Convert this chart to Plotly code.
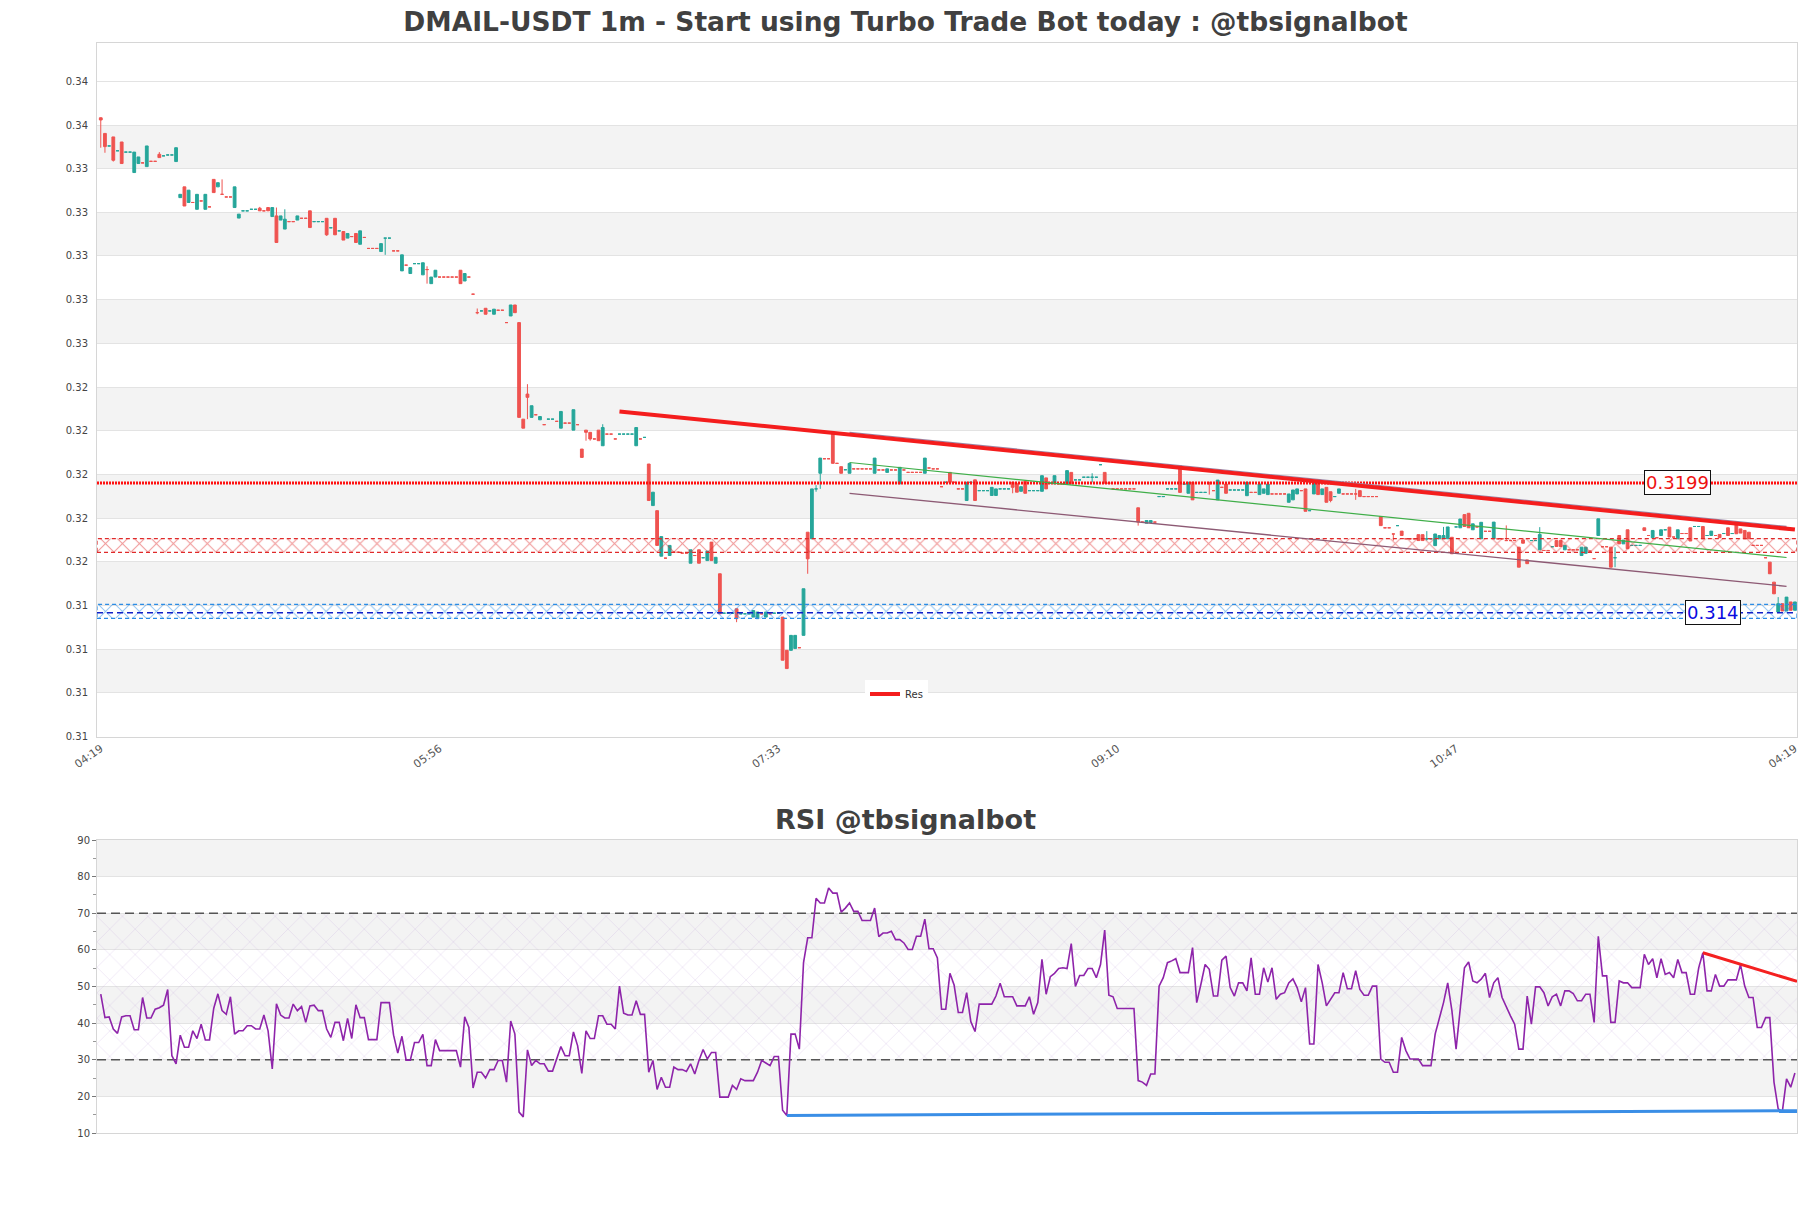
import plotly.graph_objects as go

# ---------------- text ----------------
TITLE = "DMAIL-USDT 1m - Start using Turbo Trade Bot today : @tbsignalbot"
RSI_TITLE = "RSI @tbsignalbot"

# ---------------- candle data (prices in units of 1e-5 USDT) ----------------
PRICE_UNIT = 1e-5

open_e5 = [
    33650, 33579, 33522, 33563, 33500, 33540, 33494, 33494, 33401, 33442,
    33445, 33428, 33452, 33452, 33484, 33477, 33481, 33481, 33451, 33287,
    33336, 33265, 33265, 33234, 33272, 33234, 33245, 33370, 33336, 33302,
    33290, 33290, 33242, 33194, 33227, 33227, 33234, 33234, 33239, 33227,
    33242, 33201, 33204, 33185, 33144, 33178, 33178, 33185, 33193, 33193,
    33227, 33178, 33178, 33178, 33193, 33150, 33193, 33136, 33133, 33103,
    33110, 33124, 33075, 33106, 33056, 33056, 33056, 33042, 33103, 33103,
    33045, 33045, 32954, 32980, 32942, 32987, 32987, 32936, 32960, 32896,
    32926, 32926, 32926, 32926, 32926, 32926, 32957, 32908, 32926, 32848,
    32764, 32772, 32784, 32772, 32757, 32775, 32775, 32719, 32749, 32799,
    32719, 32280, 32394, 32288, 32300, 32277, 32255, 32280, 32280, 32270,
    32239, 32262, 32262, 32230, 32255, 32144, 32230, 32220, 32190, 32230,
    32159, 32212, 32212, 32190, 32212, 32212, 32212, 32212, 32159, 32190,
    32197, 32076, 31887, 31864, 31657, 31648, 31660, 31675, 31675, 31671,
    31671, 31625, 31660, 31686, 31650, 31637, 31721, 31625, 31577, 31398,
    31398, 31398, 31418, 31395, 31395, 31395, 31380, 31373, 31395, 31380,
    31395, 31398, 31398, 31380, 31229, 31229, 31237, 31241, 31297, 31766,
    31736, 31963, 32034, 32100, 32100, 32212, 32079, 32064, 32050, 32034,
    32054, 32054, 32054, 32054, 32054, 32034, 32049, 32049, 32038, 32049,
    32049, 31986, 32049, 32038, 32038, 32038, 32038, 32034, 32058, 32054,
    32054, 31973, 31993, 32038, 31993, 31963, 31963, 31910, 31993, 32004,
    31955, 31955, 31955, 31933, 31933, 31963, 31963, 31963, 31993, 31986,
    31952, 31998, 31955, 31955, 31955, 31952, 32013, 31989, 31986, 31986,
    31986, 31986, 32038, 32004, 32004, 32016, 32016, 32016, 32016, 32073,
    32038, 31989, 31963, 31963, 31963, 31963, 31963, 31963, 31877, 31812,
    31807, 31810, 31812, 31928, 31928, 31963, 31963, 31963, 32069, 31985,
    31943, 31993, 31947, 31947, 31947, 31993, 31955, 31913, 31970, 31985,
    31958, 31958, 31958, 31958, 31932, 31947, 31947, 31937, 31943, 31937,
    31940, 31940, 31940, 31940, 31902, 31913, 31940, 31955, 31963, 31864,
    31940, 31988, 31937, 31970, 31950, 31928, 31943, 31940, 31940, 31940,
    31940, 31955, 31928, 31928, 31928, 31928, 31837, 31786, 31786, 31758,
    31796, 31771, 31736, 31736, 31736, 31755, 31755, 31736, 31736, 31705,
    31736, 31736, 31736, 31743, 31790, 31786, 31846, 31852, 31777, 31790,
    31736, 31770, 31770, 31736, 31736, 31736, 31728, 31728, 31728, 31698,
    31731, 31640, 31728, 31728, 31686, 31683, 31683, 31700, 31728, 31728,
    31686, 31686, 31686, 31686, 31660, 31670, 31680, 31646, 31751, 31700,
    31700, 31698, 31650, 31751, 31713, 31777, 31706, 31706, 31706, 31786,
    31751, 31741, 31741, 31751, 31777, 31789, 31744, 31736, 31760, 31760,
    31786, 31792, 31792, 31792, 31751, 31751, 31751, 31756, 31760, 31786,
    31760, 31804, 31781, 31774, 31766, 31706, 31706, 31706, 31650, 31630,
    31539, 31403, 31441, 31408, 31449, 31411,
]

high_e5 = [
    33652, 33579, 33522, 33563, 33500, 33540, 33494, 33494, 33494, 33472,
    33445, 33522, 33452, 33452, 33494, 33477, 33481, 33481, 33514, 33302,
    33336, 33321, 33265, 33302, 33272, 33302, 33245, 33370, 33355, 33370,
    33290, 33290, 33336, 33212, 33227, 33227, 33234, 33234, 33245, 33227,
    33242, 33242, 33242, 33204, 33234, 33178, 33178, 33204, 33193, 33193,
    33227, 33178, 33178, 33178, 33193, 33150, 33193, 33136, 33133, 33124,
    33110, 33124, 33136, 33106, 33056, 33056, 33056, 33078, 33103, 33103,
    33045, 33045, 33027, 32980, 32969, 32987, 32987, 32991, 32975, 32926,
    32957, 32926, 32926, 32926, 32926, 32926, 32957, 32942, 32926, 32848,
    32783, 32772, 32784, 32772, 32780, 32775, 32775, 32719, 32799, 32799,
    32719, 32280, 32439, 32341, 32300, 32292, 32255, 32280, 32280, 32270,
    32315, 32262, 32262, 32323, 32255, 32144, 32230, 32220, 32190, 32230,
    32257, 32212, 32212, 32190, 32212, 32212, 32212, 32212, 32242, 32190,
    32197, 32076, 31948, 31864, 31746, 31648, 31706, 31675, 31675, 31671,
    31671, 31686, 31660, 31686, 31650, 31680, 31721, 31652, 31577, 31398,
    31398, 31398, 31418, 31395, 31395, 31395, 31410, 31403, 31395, 31403,
    31395, 31398, 31398, 31380, 31229, 31297, 31297, 31241, 31509, 31766,
    31963, 31980, 32103, 32100, 32100, 32212, 32079, 32064, 32050, 32079,
    32054, 32054, 32054, 32054, 32054, 32103, 32049, 32049, 32054, 32049,
    32049, 32061, 32049, 32038, 32038, 32038, 32038, 32103, 32058, 32054,
    32054, 31973, 31993, 32038, 31993, 31963, 31963, 31993, 31993, 32004,
    31955, 31955, 31955, 31970, 31963, 31963, 31963, 31963, 31993, 31986,
    31973, 31998, 31955, 31955, 31955, 32023, 32013, 31989, 32023, 31986,
    31986, 32046, 32038, 32004, 32004, 32016, 32016, 32034, 32016, 32073,
    32038, 31989, 31963, 31963, 31963, 31963, 31963, 31963, 31877, 31812,
    31819, 31819, 31812, 31928, 31928, 31963, 31963, 31963, 32069, 31985,
    31993, 31993, 31947, 31947, 31947, 31993, 31955, 32003, 31970, 31985,
    31958, 31958, 31958, 31958, 31993, 31947, 31947, 31985, 31963, 31985,
    31940, 31940, 31940, 31940, 31940, 31958, 31963, 31955, 31963, 31864,
    31988, 31988, 31963, 31970, 31950, 31928, 31963, 31940, 31940, 31940,
    31963, 31955, 31928, 31928, 31928, 31928, 31837, 31786, 31786, 31758,
    31796, 31771, 31736, 31736, 31736, 31755, 31755, 31771, 31736, 31758,
    31751, 31790, 31790, 31743, 31790, 31826, 31846, 31852, 31804, 31790,
    31811, 31770, 31770, 31812, 31736, 31736, 31797, 31728, 31728, 31698,
    31740, 31640, 31728, 31728, 31789, 31683, 31683, 31700, 31728, 31728,
    31706, 31686, 31686, 31686, 31698, 31698, 31680, 31646, 31827, 31700,
    31700, 31698, 31698, 31751, 31730, 31777, 31706, 31706, 31706, 31786,
    31751, 31774, 31741, 31777, 31777, 31789, 31744, 31777, 31760, 31760,
    31786, 31792, 31792, 31792, 31751, 31771, 31751, 31756, 31760, 31786,
    31760, 31804, 31781, 31774, 31766, 31706, 31706, 31706, 31650, 31630,
    31539, 31471, 31441, 31471, 31449, 31449,
]

low_e5 = [
    33514, 33491, 33522, 33451, 33500, 33442, 33494, 33494, 33401, 33442,
    33445, 33428, 33452, 33452, 33469, 33477, 33481, 33481, 33451, 33287,
    33249, 33265, 33265, 33234, 33272, 33234, 33245, 33310, 33336, 33302,
    33290, 33290, 33242, 33194, 33227, 33227, 33234, 33234, 33227, 33227,
    33227, 33201, 33083, 33185, 33144, 33178, 33178, 33185, 33193, 33193,
    33151, 33178, 33178, 33178, 33113, 33150, 33118, 33136, 33094, 33103,
    33110, 33083, 33075, 33106, 33056, 33056, 33056, 33042, 33027, 33103,
    33045, 33045, 32954, 32980, 32942, 32987, 32987, 32936, 32896, 32896,
    32926, 32926, 32926, 32926, 32926, 32926, 32896, 32908, 32926, 32848,
    32757, 32772, 32757, 32772, 32757, 32775, 32775, 32719, 32749, 32764,
    32288, 32239, 32280, 32288, 32300, 32277, 32255, 32280, 32280, 32270,
    32239, 32262, 32262, 32230, 32255, 32106, 32182, 32182, 32190, 32182,
    32159, 32212, 32212, 32190, 32212, 32212, 32212, 32212, 32159, 32190,
    32197, 31910, 31887, 31706, 31657, 31648, 31660, 31675, 31675, 31671,
    31671, 31625, 31660, 31625, 31650, 31637, 31637, 31625, 31395, 31398,
    31398, 31398, 31357, 31395, 31395, 31395, 31380, 31373, 31395, 31380,
    31395, 31398, 31398, 31184, 31146, 31229, 31237, 31241, 31297, 31577,
    31736, 31950, 31963, 32100, 32100, 32079, 32079, 32034, 32050, 32034,
    32054, 32054, 32054, 32054, 32054, 32034, 32049, 32049, 32038, 32049,
    32049, 31986, 32049, 32038, 32038, 32038, 32038, 32034, 32058, 32054,
    32054, 31973, 31993, 31993, 31993, 31963, 31963, 31910, 31993, 31910,
    31955, 31955, 31955, 31933, 31933, 31963, 31963, 31963, 31943, 31948,
    31952, 31943, 31955, 31955, 31955, 31952, 31963, 31989, 31986, 31986,
    31986, 31986, 31986, 32004, 32004, 32016, 32016, 31993, 32016, 32073,
    31989, 31989, 31963, 31963, 31963, 31963, 31963, 31963, 31796, 31812,
    31807, 31810, 31812, 31928, 31928, 31963, 31963, 31963, 31947, 31985,
    31943, 31913, 31947, 31947, 31947, 31937, 31955, 31913, 31970, 31943,
    31958, 31958, 31958, 31958, 31932, 31947, 31947, 31937, 31943, 31937,
    31940, 31940, 31940, 31940, 31902, 31913, 31940, 31955, 31861, 31864,
    31940, 31937, 31937, 31902, 31902, 31928, 31943, 31940, 31940, 31940,
    31913, 31928, 31928, 31928, 31928, 31928, 31796, 31786, 31786, 31728,
    31796, 31751, 31736, 31736, 31736, 31728, 31728, 31728, 31736, 31705,
    31736, 31736, 31736, 31668, 31790, 31786, 31792, 31786, 31777, 31790,
    31736, 31770, 31770, 31736, 31736, 31736, 31728, 31728, 31728, 31607,
    31716, 31623, 31728, 31728, 31686, 31683, 31683, 31700, 31701, 31701,
    31686, 31686, 31686, 31686, 31660, 31670, 31680, 31646, 31751, 31700,
    31700, 31607, 31607, 31713, 31713, 31691, 31706, 31706, 31706, 31774,
    31751, 31741, 31741, 31751, 31777, 31744, 31744, 31736, 31760, 31760,
    31726, 31792, 31792, 31736, 31751, 31751, 31751, 31741, 31760, 31751,
    31760, 31759, 31762, 31736, 31736, 31706, 31706, 31706, 31650, 31577,
    31486, 31403, 31408, 31408, 31411, 31411,
]

close_e5 = [
    33640, 33519, 33522, 33457, 33500, 33442, 33494, 33494, 33494, 33472,
    33445, 33522, 33452, 33452, 33469, 33477, 33481, 33481, 33514, 33302,
    33249, 33321, 33265, 33302, 33272, 33302, 33245, 33310, 33355, 33302,
    33290, 33290, 33336, 33212, 33227, 33227, 33234, 33234, 33227, 33227,
    33227, 33242, 33083, 33204, 33189, 33178, 33178, 33204, 33193, 33193,
    33151, 33178, 33178, 33178, 33118, 33150, 33118, 33136, 33094, 33124,
    33110, 33083, 33136, 33106, 33056, 33056, 33056, 33078, 33103, 33103,
    33045, 33045, 33027, 32980, 32969, 32987, 32987, 32991, 32960, 32926,
    32957, 32926, 32926, 32926, 32926, 32926, 32896, 32942, 32926, 32848,
    32764, 32772, 32757, 32772, 32780, 32775, 32775, 32719, 32799, 32764,
    32288, 32239, 32379, 32341, 32300, 32292, 32255, 32280, 32280, 32270,
    32315, 32262, 32262, 32323, 32255, 32106, 32220, 32190, 32190, 32182,
    32242, 32212, 32212, 32190, 32212, 32212, 32212, 32212, 32242, 32190,
    32197, 31910, 31948, 31706, 31746, 31648, 31706, 31675, 31675, 31671,
    31671, 31686, 31660, 31625, 31650, 31680, 31637, 31652, 31395, 31398,
    31398, 31398, 31373, 31395, 31395, 31395, 31410, 31403, 31395, 31403,
    31395, 31398, 31398, 31184, 31146, 31297, 31297, 31241, 31509, 31645,
    31963, 31963, 32103, 32100, 32100, 32079, 32079, 32034, 32050, 32079,
    32054, 32054, 32054, 32054, 32054, 32103, 32049, 32049, 32054, 32049,
    32049, 32061, 32049, 32038, 32038, 32038, 32038, 32103, 32058, 32054,
    32054, 31973, 31993, 31993, 31993, 31963, 31963, 31993, 31993, 31910,
    31955, 31955, 31955, 31970, 31963, 31963, 31963, 31963, 31970, 31948,
    31973, 31943, 31955, 31955, 31955, 32023, 31963, 31989, 32023, 31986,
    31986, 32046, 31986, 32004, 32004, 32016, 32016, 32016, 32016, 32073,
    31989, 31989, 31963, 31963, 31963, 31963, 31963, 31963, 31812, 31812,
    31819, 31819, 31812, 31928, 31928, 31963, 31963, 31963, 31947, 31985,
    31993, 31913, 31947, 31947, 31947, 31985, 31955, 32003, 31970, 31943,
    31958, 31958, 31958, 31958, 31993, 31947, 31947, 31985, 31963, 31985,
    31940, 31940, 31940, 31940, 31940, 31958, 31963, 31955, 31861, 31864,
    31988, 31937, 31963, 31902, 31910, 31928, 31963, 31940, 31940, 31940,
    31940, 31928, 31928, 31928, 31928, 31928, 31796, 31786, 31786, 31758,
    31796, 31751, 31736, 31736, 31736, 31728, 31728, 31736, 31736, 31758,
    31751, 31751, 31790, 31668, 31790, 31826, 31792, 31786, 31804, 31790,
    31811, 31770, 31770, 31812, 31736, 31736, 31728, 31728, 31728, 31607,
    31716, 31623, 31728, 31728, 31756, 31683, 31683, 31700, 31701, 31701,
    31706, 31686, 31686, 31686, 31698, 31698, 31680, 31646, 31827, 31700,
    31700, 31607, 31650, 31713, 31730, 31691, 31706, 31706, 31706, 31774,
    31751, 31774, 31741, 31777, 31777, 31744, 31744, 31777, 31760, 31760,
    31726, 31792, 31792, 31736, 31751, 31771, 31751, 31741, 31760, 31751,
    31760, 31759, 31762, 31736, 31736, 31706, 31706, 31706, 31650, 31577,
    31486, 31441, 31408, 31471, 31411, 31449,
]

# ---------------- RSI values ----------------
rsi = [
    47.9, 41.5, 41.7, 38.4, 37.2, 41.7, 42.0, 42.0, 38.2, 38.2,
    47.0, 41.4, 41.4, 43.8, 44.2, 44.9, 49.2, 31.1, 28.9, 36.7,
    33.4, 33.4, 37.9, 35.8, 39.7, 35.4, 35.4, 44.0, 48.0, 43.4,
    42.4, 47.2, 37.0, 37.9, 37.9, 39.3, 39.3, 38.4, 38.4, 42.2,
    37.9, 27.5, 45.3, 42.2, 41.4, 41.4, 45.2, 43.4, 44.5, 40.2,
    44.7, 44.9, 43.4, 43.4, 38.4, 36.1, 40.2, 40.2, 35.2, 41.3,
    35.8, 45.0, 41.5, 41.5, 35.5, 35.5, 35.5, 45.6, 45.6, 45.6,
    36.7, 31.8, 36.4, 29.9, 29.9, 34.7, 34.7, 36.9, 28.4, 28.4,
    35.5, 32.5, 32.5, 32.5, 32.5, 32.5, 28.0, 41.7, 38.8, 22.3,
    26.6, 26.6, 25.0, 27.3, 27.3, 29.8, 29.8, 23.9, 40.6, 37.0,
    15.7, 14.4, 32.7, 28.4, 29.8, 28.9, 28.9, 26.9, 26.9, 30.2,
    33.6, 31.1, 31.1, 37.6, 33.8, 26.3, 37.9, 35.8, 35.8, 42.0,
    42.0, 39.7, 39.7, 38.4, 50.1, 42.7, 42.2, 42.2, 46.1, 42.4,
    42.4, 26.6, 29.8, 21.9, 25.2, 22.5, 22.5, 28.0, 27.3, 27.3,
    26.8, 28.9, 26.1, 29.8, 32.8, 30.2, 32.0, 32.0, 19.8, 19.8,
    19.8, 23.0, 21.9, 24.8, 24.3, 24.3, 24.3, 26.6, 29.8, 29.1,
    28.4, 30.9, 30.9, 16.2, 14.8, 37.0, 37.0, 32.9, 56.5, 63.3,
    63.3, 74.1, 72.8, 72.8, 76.9, 75.5, 75.5, 70.3, 71.4, 72.8,
    70.5, 70.5, 68.0, 68.0, 68.0, 71.4, 63.6, 64.6, 64.6, 65.1,
    62.8, 62.8, 61.9, 60.1, 60.1, 63.7, 63.7, 68.4, 60.3, 60.3,
    57.8, 43.8, 43.8, 53.6, 50.4, 42.9, 42.9, 48.3, 40.4, 37.7,
    45.2, 45.2, 45.2, 45.2, 47.4, 50.9, 47.2, 47.2, 47.2, 44.7,
    44.7, 44.7, 47.2, 42.4, 45.6, 57.4, 47.9, 52.7, 53.6, 54.9,
    55.1, 54.9, 61.7, 50.0, 53.0, 53.0, 54.9, 54.9, 52.4, 56.0,
    65.4, 47.6, 47.2, 44.0, 44.0, 44.0, 44.0, 44.0, 24.3, 23.9,
    23.0, 26.1, 26.1, 50.1, 52.4, 56.5, 57.0, 57.6, 53.8, 53.8,
    53.8, 60.6, 45.6, 50.6, 56.0, 54.7, 47.4, 47.4, 57.2, 58.3,
    49.7, 47.4, 51.0, 51.0, 48.8, 57.8, 47.9, 47.9, 55.1, 51.2,
    55.1, 46.5, 47.9, 48.3, 51.0, 52.1, 49.7, 45.8, 49.7, 34.3,
    34.3, 56.0, 51.0, 44.7, 46.5, 48.3, 48.3, 53.8, 49.4, 49.4,
    54.3, 49.2, 47.6, 47.6, 50.1, 50.1, 30.2, 29.3, 29.3, 26.6,
    26.6, 36.1, 32.5, 30.2, 30.2, 30.2, 28.4, 28.4, 28.4, 37.0,
    41.5, 45.6, 51.0, 43.4, 32.9, 43.8, 55.1, 56.7, 51.5, 51.0,
    52.0, 53.6, 47.0, 51.0, 52.4, 47.0, 44.3, 42.0, 39.7, 32.9,
    32.9, 47.4, 39.7, 49.9, 49.9, 48.3, 44.7, 47.2, 47.9, 44.7,
    48.8, 48.8, 48.1, 46.1, 46.1, 47.9, 47.9, 40.2, 63.7, 52.9,
    52.9, 40.2, 40.2, 51.5, 51.0, 51.0, 49.7, 49.7, 49.7, 58.8,
    56.0, 57.6, 52.4, 57.6, 53.3, 53.8, 52.4, 57.4, 53.8, 53.8,
    47.9, 47.9, 55.1, 59.2, 48.8, 48.8, 53.3, 50.1, 50.1, 51.8,
    51.8, 51.8, 56.0, 50.1, 47.0, 47.0, 38.8, 38.8, 41.5, 41.5,
    23.9, 16.6, 15.9, 24.8, 22.5, 26.4,
]

# ---------------- axes / labels ----------------
x_tick_idx = [0, 81, 162, 243, 324, 405]
x_tick_text = ["04:19", "05:56", "07:33", "09:10", "10:47", "04:19"]
y_tick_vals = [0.30837, 0.31036, 0.31234, 0.31433, 0.31631, 0.31830, 0.32029, 0.32227,
               0.32426, 0.32624, 0.32823, 0.33022, 0.33220, 0.33419, 0.33617, 0.33816]
rsi_ticks = [10, 20, 30, 40, 50, 60, 70, 80, 90]

# ---------------- levels, zones, trend lines ----------------
res_level = 0.3199
sup_level = 0.314
res_zone = (0.31674, 0.31737)
sup_zone = (0.31374, 0.31438)
res_label_idx = 377
sup_label_idx = 385.5

res_trend_x, res_trend_y = [124, 405], [0.32315, 0.31778]
chan_up_x, chan_up_y = [179, 403], [0.32220, 0.31792]
chan_lo_x, chan_lo_y = [179, 403], [0.31943, 0.31520]
chan_mid_x, chan_mid_y = [179, 403], [0.32083, 0.31651]

rsi_res_x, rsi_res_y = [383, 405.5], [59.2, 51.4]
rsi_sup_x, rsi_sup_y = [164, 405.5], [14.8, 16.1]
rsi_upper, rsi_lower = 70, 30

# ---------------- build ----------------
n = min(len(open_e5), len(high_e5), len(low_e5), len(close_e5))
xs = list(range(n))
opens = [v * PRICE_UNIT for v in open_e5[:n]]
highs = [v * PRICE_UNIT for v in high_e5[:n]]
lows = [v * PRICE_UNIT for v in low_e5[:n]]
closes = [v * PRICE_UNIT for v in close_e5[:n]]

X0, X1 = -0.9, 405.5
GREEN = "#26a69a"
RED = "#ef5350"
FONT = "DejaVu Sans"

fig = go.Figure()

# candles
fig.add_trace(go.Candlestick(
    x=xs, open=opens, high=highs, low=lows, close=closes,
    increasing=dict(line=dict(color=GREEN, width=1), fillcolor=GREEN),
    decreasing=dict(line=dict(color=RED, width=1), fillcolor=RED),
    whiskerwidth=0, showlegend=False, hoverinfo="skip",
    xaxis="x", yaxis="y"))

# hatched zones
def zone(lo, hi, color, edge_dash):
    return go.Scatter(
        x=[X0, X1, X1, X0, X0], y=[lo, lo, hi, hi, lo], mode="lines",
        fill="toself", fillcolor="rgba(255,255,255,0)",
        fillpattern=dict(shape="x", fgcolor=color, bgcolor="rgba(0,0,0,0)",
                         size=12, solidity=0.16),
        line=dict(color=color, width=1.2, dash=edge_dash),
        hoverinfo="skip", showlegend=False, xaxis="x", yaxis="y")

fig.add_trace(zone(res_zone[0], res_zone[1], "#e02a2a", "4px,3px"))
fig.add_trace(zone(sup_zone[0], sup_zone[1], "#2a8ce6", "4px,3px"))

# horizontal levels
fig.add_trace(go.Scatter(x=[X0, X1], y=[res_level, res_level], mode="lines",
                         line=dict(color="#ff1010", width=3, dash="2px,1px"),
                         hoverinfo="skip", showlegend=False, xaxis="x", yaxis="y"))
fig.add_trace(go.Scatter(x=[X0, X1], y=[sup_level, sup_level], mode="lines",
                         line=dict(color="#1020c8", width=1.5, dash="6px,4px"),
                         hoverinfo="skip", showlegend=False, xaxis="x", yaxis="y"))

# channel lines
fig.add_trace(go.Scatter(x=chan_mid_x, y=chan_mid_y, mode="lines",
                         line=dict(color="#3fae49", width=1.2),
                         hoverinfo="skip", showlegend=False, xaxis="x", yaxis="y"))
fig.add_trace(go.Scatter(x=chan_lo_x, y=chan_lo_y, mode="lines",
                         line=dict(color="#8d5a74", width=1.3),
                         hoverinfo="skip", showlegend=False, xaxis="x", yaxis="y"))
fig.add_trace(go.Scatter(x=chan_up_x, y=chan_up_y, mode="lines",
                         line=dict(color="#9a86a6", width=1.3),
                         hoverinfo="skip", showlegend=False, xaxis="x", yaxis="y"))
fig.add_trace(go.Scatter(x=res_trend_x, y=res_trend_y, mode="lines", name="Res",
                         line=dict(color="#f41d1d", width=4),
                         hoverinfo="skip", showlegend=True, xaxis="x", yaxis="y"))

# RSI panel
fig.add_trace(go.Scatter(
    x=[X0, X1, X1, X0, X0], y=[rsi_lower, rsi_lower, rsi_upper, rsi_upper, rsi_lower],
    mode="lines", fill="toself", fillcolor="rgba(255,255,255,0)",
    fillpattern=dict(shape="x", fgcolor="rgba(175,140,210,0.55)", bgcolor="rgba(0,0,0,0)",
                     size=18, solidity=0.07),
    line=dict(width=0), hoverinfo="skip", showlegend=False, xaxis="x2", yaxis="y2"))
for lvl in (rsi_upper, rsi_lower):
    fig.add_trace(go.Scatter(x=[X0, X1], y=[lvl, lvl], mode="lines",
                             line=dict(color="#555555", width=1.3, dash="9px,5px"),
                             hoverinfo="skip", showlegend=False, xaxis="x2", yaxis="y2"))
fig.add_trace(go.Scatter(x=list(range(len(rsi))), y=rsi, mode="lines",
                         line=dict(color="#8e24aa", width=1.6),
                         hoverinfo="skip", showlegend=False, xaxis="x2", yaxis="y2"))
fig.add_trace(go.Scatter(x=rsi_sup_x, y=rsi_sup_y, mode="lines",
                         line=dict(color="#3a8ee6", width=3),
                         hoverinfo="skip", showlegend=False, xaxis="x2", yaxis="y2"))
fig.add_trace(go.Scatter(x=rsi_res_x, y=rsi_res_y, mode="lines",
                         line=dict(color="#f42020", width=3),
                         hoverinfo="skip", showlegend=False, xaxis="x2", yaxis="y2"))

# alternating bands
shapes = []
for j in range(1, len(y_tick_vals) - 1, 2):
    shapes.append(dict(type="rect", xref="x domain", yref="y", x0=0, x1=1,
                       y0=y_tick_vals[j], y1=y_tick_vals[j + 1],
                       fillcolor="#f3f3f3", line=dict(width=0), layer="below"))
for lo in (20, 40, 60, 80):
    shapes.append(dict(type="rect", xref="x2 domain", yref="y2", x0=0, x1=1,
                       y0=lo, y1=lo + 10, fillcolor="#f3f3f3", line=dict(width=0),
                       layer="below"))

W, H = 1811, 1208
L, R, T, B = 97, 14, 43, 75
plot_h = H - T - B
top_dom = [(H - B - 737) / plot_h, 1.0]
rsi_dom = [0.0, (H - B - 840) / plot_h]

axis_line = "#d6d6d6"
annotations = [
    dict(x=res_label_idx, y=res_level, xref="x", yref="y", text="0.3199",
         showarrow=False, font=dict(color="#ee1111", size=18, family=FONT),
         bgcolor="white", bordercolor="#111111", borderwidth=1, borderpad=1),
    dict(x=sup_label_idx, y=sup_level, xref="x", yref="y", text="0.314",
         showarrow=False, font=dict(color="#0a0ae0", size=18, family=FONT),
         bgcolor="white", bordercolor="#111111", borderwidth=1, borderpad=1),
    dict(x=(905 - L) / (W - L - R), y=(H - B - 819) / plot_h, xref="paper", yref="paper",
         text="<b>" + RSI_TITLE + "</b>", showarrow=False, xanchor="center", yanchor="middle",
         font=dict(size=27, color="#404040", family=FONT)),
]

fig.update_layout(
    width=W, height=H,
    margin=dict(l=L, r=R, t=T, b=B),
    paper_bgcolor="white", plot_bgcolor="white",
    font=dict(family=FONT, color="#444444", size=10),
    title=dict(text="<b>" + TITLE + "</b>", x=0.5, xref="container", xanchor="center",
               y=1 - 22 / H, yanchor="middle",
               font=dict(size=26.5, color="#404040", family=FONT)),
    boxgap=0.05,
    showlegend=True,
    legend=dict(x=(865 - L) / (W - L - R), y=(H - B - 694) / plot_h, xanchor="left",
                yanchor="middle", bgcolor="white", font=dict(size=10, color="#333333"),
                borderwidth=0),
    xaxis=dict(domain=[0, 1], anchor="y", range=[X0, X1], tickmode="array",
               tickvals=x_tick_idx, ticktext=x_tick_text, tickangle=-35,
               tickfont=dict(size=11, color="#555555"), showgrid=False, zeroline=False,
               showline=True, linecolor=axis_line, mirror=True,
               rangeslider=dict(visible=False), ticks=""),
    yaxis=dict(domain=top_dom, anchor="x", range=[0.30835, 0.3399], tickmode="array",
               tickvals=y_tick_vals, ticktext=[f"{v:.2f}" for v in y_tick_vals],
               tickfont=dict(size=10, color="#444444"), gridcolor="#e3e3e3",
               zeroline=False, showline=True, linecolor=axis_line, mirror=True,
               ticks="outside", ticklen=6, tickcolor="rgba(0,0,0,0)"),
    xaxis2=dict(domain=[0, 1], anchor="y2", range=[X0, X1], showticklabels=False,
                showgrid=False, zeroline=False, showline=True, linecolor=axis_line,
                mirror=True, ticks=""),
    yaxis2=dict(domain=rsi_dom, anchor="x2", range=[10, 90], tickmode="array",
                tickvals=rsi_ticks, tickfont=dict(size=10, color="#444444"),
                gridcolor="#e3e3e3", zeroline=False, showline=True, linecolor=axis_line,
                mirror=True, ticks="outside", ticklen=4, tickcolor="#777777",
                minor=dict(ticks="outside", ticklen=3, tickcolor="#999999",
                           tickmode="array", tickvals=[15, 25, 35, 45, 55, 65, 75, 85],
                           showgrid=False)),
    shapes=shapes,
    annotations=annotations,
)

fig.write_html("out.html")
